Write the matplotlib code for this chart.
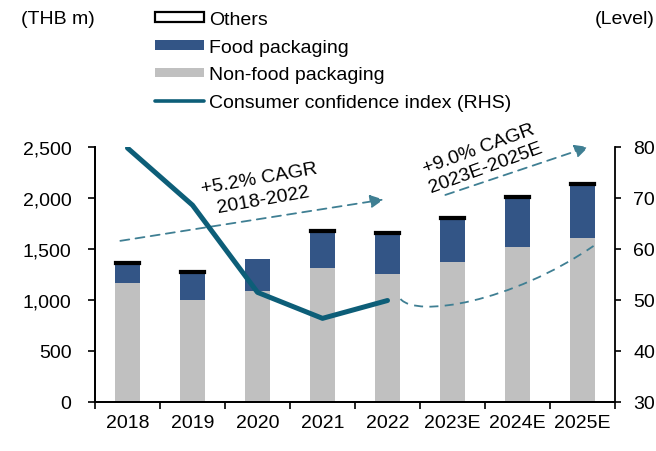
import matplotlib
matplotlib.use('Agg')
import matplotlib.pyplot as plt
from matplotlib.lines import Line2D
from matplotlib.path import Path
from matplotlib.patches import PathPatch
import matplotlib.ticker as ticker

plt.rcParams['font.family'] = ['Liberation Sans', 'DejaVu Sans']
plt.rcParams['font.size'] = 14

# data
years = ['2018', '2019', '2020', '2021', '2022', '2023E', '2024E', '2025E']
non_food = [1167, 997, 1088, 1314, 1258, 1370, 1516, 1608]
food = [186, 268, 314, 356, 389, 424, 484, 519]
others = [20, 20, 0, 20, 20, 20, 20, 20]
cci_years = ['2018', '2019', '2020', '2021', '2022']
cci = [79.8, 68.6, 51.5, 46.4, 49.9]

GREY = '#c0c0c0'
NAVY = '#335586'
TEAL = '#0d5e78'
ARROW = '#3f7f93'

fig = plt.figure(figsize=(6.56, 4.52), dpi=100)
ax = fig.add_axes([95 / 656, 1 - 403 / 452, 520 / 656, 255 / 452])
ax2 = ax.twinx()

x = list(range(len(years)))
w = 0.38
ax.bar(x, non_food, w, color=GREY, label='Non-food packaging', zorder=2)
ax.bar(x, food, w, bottom=non_food, color=NAVY, label='Food packaging', zorder=2)
tops = [a + b for a, b in zip(non_food, food)]
ax.bar(x, others, w, bottom=tops, facecolor='white', edgecolor='black',
       linewidth=[1.6 if v > 0 else 0 for v in others], label='Others', zorder=3)

ax.set_xlim(-0.5, len(years) - 0.5)
ax.set_ylim(0, 2500)
ax.set_yticks(range(0, 2501, 500))
ax.yaxis.set_major_formatter(ticker.FuncFormatter(lambda v, p: f'{int(v):,}'))
ax.set_xticks(x)
ax.set_xticklabels(years)
ax.set_xticks([i - 0.5 for i in range(len(years) + 1)], minor=True)
ax.tick_params(axis='x', which='major', length=0, pad=9)
ax.tick_params(axis='x', which='minor', length=5, width=1.2, direction='out')
ax.tick_params(axis='y', length=5, width=1.2, direction='out', pad=12)

ax2.set_ylim(30, 80)
ax2.set_yticks(range(30, 81, 10))
ax2.tick_params(axis='y', length=4, width=1.2, direction='out', pad=9)

for a in (ax, ax2):
    a.spines['top'].set_visible(False)
    for s in ('left', 'right', 'bottom'):
        a.spines[s].set_linewidth(1.3)
ax.spines['right'].set_visible(False)

ax2.plot([years.index(y) for y in cci_years], cci, color=TEAL, lw=3.6,
         solid_capstyle='round', solid_joinstyle='round', zorder=5)

# CAGR arrows
arr = dict(arrowstyle='-|>', color=ARROW, lw=1.3, linestyle=(0, (5, 3.5)),
           mutation_scale=20, shrinkA=0, shrinkB=0)
ax2.annotate('', xy=(3.94, 69.7), xytext=(-0.11, 61.6), arrowprops=arr,
             annotation_clip=False)
ax2.annotate('', xy=(7.09, 80.0), xytext=(4.89, 70.6), arrowprops=arr,
             annotation_clip=False)
curve = Path([(4.2, 50.2), (4.45, 46.5), (5.9, 49.5), (7.17, 60.6)],
             [Path.MOVETO, Path.CURVE4, Path.CURVE4, Path.CURVE4])
ax2.add_patch(PathPatch(curve, facecolor='none', edgecolor=ARROW, lw=1.3,
                        linestyle=(0, (5, 3.5)), zorder=4))

ax2.text(2.06, 71.8, '+5.2% CAGR\n2018-2022', rotation=10, ha='center',
         va='center', rotation_mode='anchor', multialignment='center',
         linespacing=1.3)
ax2.text(5.46, 77.8, '+9.0% CAGR\n2023E-2025E', rotation=20, ha='center',
         va='center', rotation_mode='anchor', multialignment='center',
         linespacing=1.25)

fig.text(21 / 656, 1 - 20 / 452, '(THB m)', ha='left', va='center')
fig.text(655 / 656, 1 - 20 / 452, '(Level)', ha='right', va='center')

h, l = ax.get_legend_handles_labels()
hd = dict(zip(l, h))
line_h = Line2D([], [], color=TEAL, lw=2.6, solid_capstyle='round')
fig.legend([hd['Others'], hd['Food packaging'], hd['Non-food packaging'], line_h],
           ['Others', 'Food packaging', 'Non-food packaging',
            'Consumer confidence index (RHS)'],
           loc='upper left', bbox_to_anchor=(155 / 656, 1 - 12 / 452),
           frameon=False, borderpad=0, borderaxespad=0, handlelength=2.5,
           handleheight=0.4, handletextpad=0.3, labelspacing=0.55)

fig.savefig('out.png', dpi=100)
